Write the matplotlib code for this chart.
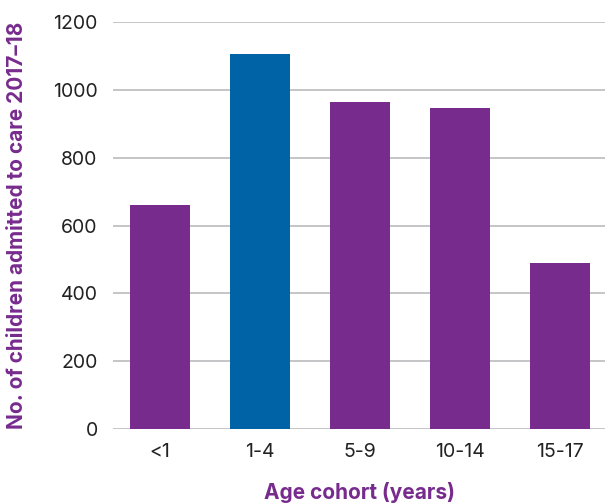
import matplotlib.pyplot as plt

# Data
cohorts = ['<1', '1-4', '5-9', '10-14', '15-17']
admitted = [660, 1105, 965, 948, 490]
bar_colors = ['#772B8D', '#0063A6', '#772B8D', '#772B8D', '#772B8D']
y_ticks = [0, 200, 400, 600, 800, 1000, 1200]

plt.rcParams['font.family'] = ['Inter', 'DejaVu Sans']

fig = plt.figure(figsize=(6.05, 5.03), dpi=100)
ax = fig.add_axes([0.1868, 0.147, 0.8132, 0.809])

ax.bar(range(len(cohorts)), admitted, width=0.6, color=bar_colors, zorder=3)

ax.set_ylim(0, 1200)
ax.set_xlim(-0.47, 4.45)
ax.set_yticks(y_ticks)
ax.set_xticks(range(len(cohorts)))
ax.set_xticklabels(cohorts)
ax.yaxis.grid(True, color='#c0c0c4', linewidth=1.3, zorder=0)
ax.set_axisbelow(True)

for s in ['top', 'right', 'left', 'bottom']:
    ax.spines[s].set_visible(False)
ax.tick_params(axis='both', length=0, labelsize=14, colors='#222222')
ax.tick_params(axis='y', pad=11)
ax.tick_params(axis='x', pad=10)

ax.set_ylabel('No. of children admitted to care 2017\u201318', fontsize=15,
              fontweight='bold', color='#772B8D', va='center')
ax.set_xlabel('Age cohort (years)', fontsize=15, fontweight='bold',
              color='#772B8D', va='center')
ax.yaxis.set_label_coords(-0.196, 0.5)
ax.xaxis.set_label_coords(0.5, -0.155)

fig.savefig('out.png', dpi=100)
